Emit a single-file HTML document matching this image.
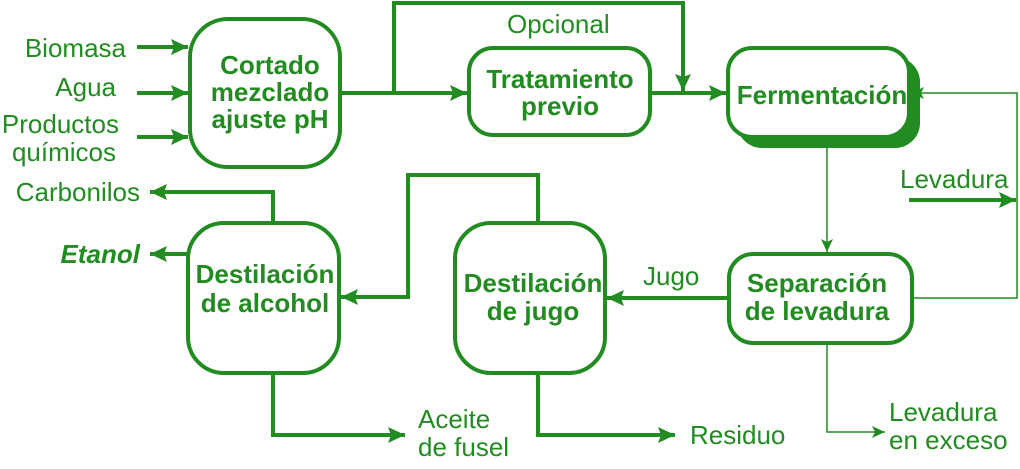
<!DOCTYPE html>
<html><head><meta charset="utf-8"><style>
html,body{margin:0;padding:0;background:#fff}
svg{display:block}
text{font-family:"Liberation Sans",Arial,sans-serif;fill:#228B22}
.b{font-weight:bold;font-size:26px}
.n{font-size:26px}
</style></head><body>
<svg width="1020" height="469" viewBox="0 0 1020 469" xmlns="http://www.w3.org/2000/svg">
<defs>
<marker id="A" markerWidth="18" markerHeight="18" refX="17" refY="9" orient="auto" markerUnits="userSpaceOnUse">
<path d="M0,1 L17,9 L0,17 L3,9 Z" fill="#228B22"/>
</marker>
<marker id="s" markerWidth="14" markerHeight="14" refX="13" refY="7" orient="auto" markerUnits="userSpaceOnUse">
<path d="M0,1 L13,7 L0,13 L3,7 Z" fill="#228B22"/>
</marker>
</defs>
<g fill="none" stroke="#228B22">
<rect x="737" y="57" width="183" height="91" rx="25" fill="#228B22" stroke="none"/>
<g stroke-width="4" fill="#fff">
<rect x="190" y="19" width="150" height="148" rx="38"/>
<rect x="469" y="48" width="181" height="87" rx="24"/>
<rect x="728" y="48" width="181" height="89" rx="24"/>
<rect x="729" y="254" width="183" height="89" rx="24"/>
<rect x="455" y="223" width="150" height="150" rx="36"/>
<rect x="188" y="223" width="151" height="150" rx="36"/>
</g>
<g stroke-width="4">
<line x1="137" y1="47" x2="188" y2="47" marker-end="url(#A)"/>
<line x1="137" y1="93" x2="188" y2="93" marker-end="url(#A)"/>
<line x1="137" y1="137" x2="188" y2="137" marker-end="url(#A)"/>
<line x1="340" y1="93" x2="467" y2="93" marker-end="url(#A)"/>
<polyline points="394,93 394,3 683,3 683,91" marker-end="url(#A)"/>
<line x1="650" y1="93" x2="726" y2="93" marker-end="url(#A)"/>
<line x1="909" y1="200" x2="1016" y2="200" marker-end="url(#A)"/>
<line x1="729" y1="298" x2="607" y2="298" marker-end="url(#A)"/>
<polyline points="538,223 538,175 408,175 408,297 341,297" marker-end="url(#A)"/>
<polyline points="538,373 538,435 675,435" marker-end="url(#A)"/>
<polyline points="273,373 273,435 405,435" marker-end="url(#A)"/>
<polyline points="273,223 273,192 150,192" marker-end="url(#A)"/>
<line x1="188" y1="254" x2="150" y2="254" marker-end="url(#A)"/>
</g>
<g stroke-width="1.5">
<polyline points="912,298 1017,298 1017,93 911,93" marker-end="url(#s)"/>
<line x1="827" y1="148" x2="827" y2="252" marker-end="url(#s)"/>
<polyline points="827,343 827,432 885,432" marker-end="url(#s)"/>
</g>
</g>
<g class="b" text-anchor="middle">
<text x="270" y="74">Cortado</text>
<text x="270" y="101">mezclado</text>
<text x="270" y="128">ajuste pH</text>
<text x="560" y="88">Tratamiento</text>
<text x="560" y="115">previo</text>
<text x="822" y="104">Fermentación</text>
<text x="817" y="292">Separación</text>
<text x="817" y="320">de levadura</text>
<text x="533" y="292">Destilación</text>
<text x="533" y="320">de jugo</text>
<text x="265" y="283">Destilación</text>
<text x="265" y="312">de alcohol</text>
</g>
<g class="n">
<text x="126" y="57" text-anchor="end">Biomasa</text>
<text x="116" y="96" text-anchor="end">Agua</text>
<text x="119" y="133" text-anchor="end">Productos</text>
<text x="116" y="161" text-anchor="end">químicos</text>
<text x="140" y="201" text-anchor="end">Carbonilos</text>
<text x="140" y="263" text-anchor="end" font-weight="bold" font-style="italic">Etanol</text>
<text x="507" y="33">Opcional</text>
<text x="900" y="188">Levadura</text>
<text x="643" y="285">Jugo</text>
<text x="418" y="428">Aceite</text>
<text x="418" y="456">de fusel</text>
<text x="690" y="444">Residuo</text>
<text x="889" y="421">Levadura</text>
<text x="889" y="449">en exceso</text>
</g>
</svg>
</body></html>
